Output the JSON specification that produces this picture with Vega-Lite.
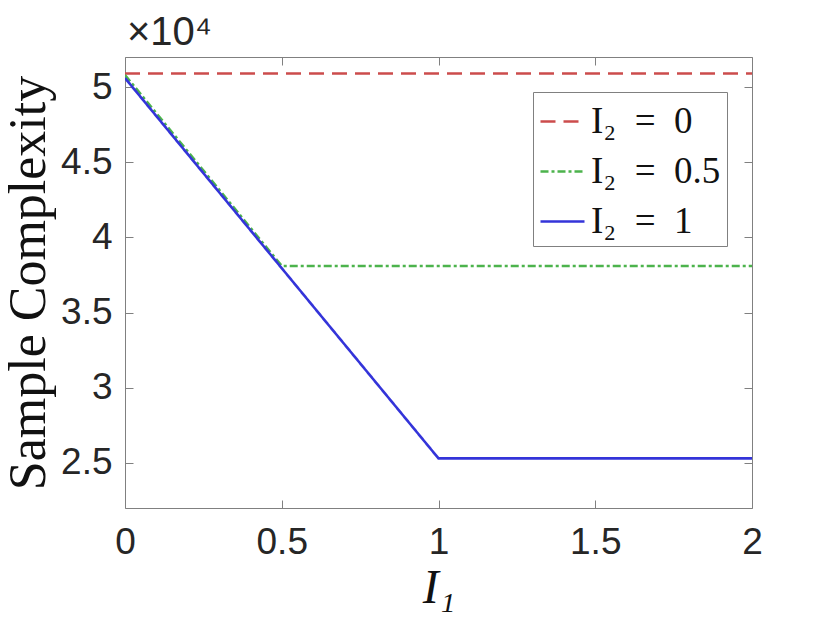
{
  "$schema": "https://vega.github.io/schema/vega-lite/v6.json",
  "width": 627,
  "height": 451,
  "autosize": "none",
  "padding": {"left": 125, "top": 57, "right": 78, "bottom": 115},
  "background": "white",
  "config": {"view": {"stroke": null}},
  "title": {"text": "×10⁴", "anchor": "start", "frame": "group", "font": "Liberation Sans", "fontSize": 40, "fontWeight": "normal", "color": "#262626", "offset": 4, "dx": 2},
  "data": {"values": [
    {"series": "I₂ = 0", "x": 0, "y": 50900},
    {"series": "I₂ = 0", "x": 2, "y": 50900},
    {"series": "I₂ = 0.5", "x": 0, "y": 50800},
    {"series": "I₂ = 0.5", "x": 0.5, "y": 38100},
    {"series": "I₂ = 0.5", "x": 2, "y": 38100},
    {"series": "I₂ = 1", "x": 0, "y": 50600},
    {"series": "I₂ = 1", "x": 1, "y": 25300},
    {"series": "I₂ = 1", "x": 2, "y": 25300}
  ]},
  "layer": [
    {
      "mark": {"type": "line", "strokeWidth": 2.6, "clip": true},
      "encoding": {
        "x": {"field": "x", "type": "quantitative", "scale": {"domain": [0, 2], "nice": false},
          "axis": {"orient": "bottom", "values": [0, 0.5, 1, 1.5, 2], "format": "~g", "grid": false,
            "title": "I₁", "titleFont": "Liberation Serif", "titleFontStyle": "italic", "titleFontSize": 48, "titleFontWeight": "normal", "titleColor": "#111111", "titlePadding": 4,
            "labelFont": "Liberation Sans", "labelFontSize": 37, "labelColor": "#262626", "labelPadding": 24,
            "domainColor": "#808080", "tickColor": "#808080", "tickSize": -8, "labelFlush": false}},
        "y": {"field": "y", "type": "quantitative", "scale": {"domain": [22000, 52000], "nice": false, "zero": false},
          "axis": {"orient": "left", "values": [25000, 30000, 35000, 40000, 45000, 50000], "labelExpr": "format(datum.value/10000, '~g')", "grid": false,
            "title": "Sample Complexity", "titleFont": "Liberation Serif", "titleFontSize": 52, "titleFontWeight": "normal", "titleColor": "#111111", "titlePadding": 5,
            "labelFont": "Liberation Sans", "labelFontSize": 37, "labelColor": "#262626", "labelPadding": 21,
            "domainColor": "#808080", "tickColor": "#808080", "tickSize": -8}},
        "color": {"field": "series", "type": "nominal", "sort": ["I₂ = 0", "I₂ = 0.5", "I₂ = 1"],
          "scale": {"domain": ["I₂ = 0", "I₂ = 0.5", "I₂ = 1"], "range": ["#cc4c4c", "#4cb34c", "#3434d9"]},
          "legend": {"title": null, "orient": "none", "legendX": 408, "legendY": 35,
            "strokeColor": "#808080", "fillColor": "white", "padding": 6,
            "symbolType": "stroke", "symbolSize": 1936, "symbolStrokeWidth": 2.6,
            "labelFont": "Liberation Serif", "labelFontSize": 37, "labelColor": "#111111", "labelLimit": 300,
            "rowPadding": 8, "labelOffset": 5,
            "labelExpr": "replace(datum.label, ' = ', '\u2002=\u2002')"}},
        "strokeDash": {"field": "series", "type": "nominal", "sort": ["I₂ = 0", "I₂ = 0.5", "I₂ = 1"],
          "scale": {"domain": ["I₂ = 0", "I₂ = 0.5", "I₂ = 1"], "range": [[15, 8], [8, 3, 3, 3], [1, 0]]},
          "legend": null}
      }
    },
    {
      "mark": {"type": "point", "opacity": 0},
      "encoding": {
        "x": {"field": "x", "type": "quantitative",
          "axis": {"orient": "top", "values": [0, 0.5, 1, 1.5, 2], "labels": false, "title": null, "grid": false, "domainColor": "#808080", "tickColor": "#808080", "tickSize": -8}},
        "y": {"field": "y", "type": "quantitative",
          "axis": {"orient": "right", "values": [25000, 30000, 35000, 40000, 45000, 50000], "labels": false, "title": null, "grid": false, "domainColor": "#808080", "tickColor": "#808080", "tickSize": -8}}
      }
    }
  ],
  "resolve": {"axis": {"x": "independent", "y": "independent"}}
}
